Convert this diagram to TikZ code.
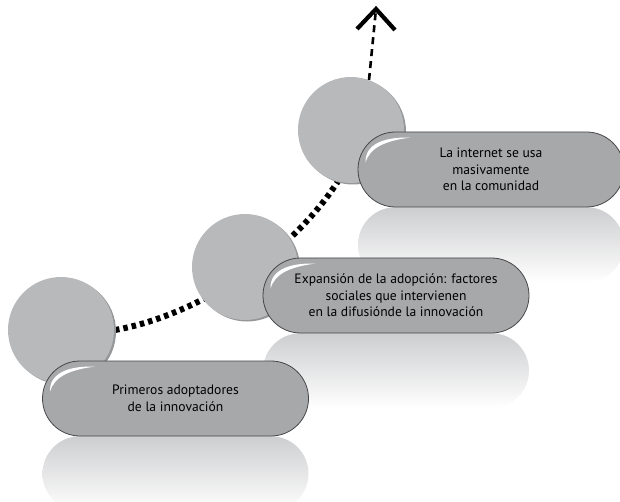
\documentclass[tikz,border=0pt]{standalone}
\usepackage{fontspec}
\setmainfont{PT Sans}
\usetikzlibrary{shapes.misc,calc}
\definecolor{circfill}{RGB}{184,185,187}
\definecolor{circshadow}{RGB}{150,151,153}
\definecolor{boxfill}{RGB}{167,168,170}
\definecolor{boxline}{RGB}{70,70,72}
\definecolor{reflgray}{RGB}{205,206,208}
\tikzset{
  bubble/.style={circle, fill=circfill, minimum size=106pt, inner sep=0pt},
  bubbleshadow/.style={circle, fill=circshadow, minimum size=106pt, inner sep=0pt},
  pill/.style={rounded rectangle, draw=boxline, line width=0.8pt, fill=boxfill,
    minimum width=266pt, minimum height=75pt, inner sep=0pt, align=center,
    font=\fontsize{13.6}{16.5}\selectfont},
  reflection/.style={rounded rectangle, minimum width=266pt, minimum height=75pt,
    inner sep=0pt, top color=reflgray, bottom color=white},
  thickdots/.style={line width=6pt, dash pattern=on 4.5pt off 4pt},
  thindots/.style={line width=2.6pt, dash pattern=on 7pt off 5pt},
  chevron/.style={line width=4.2pt, miter limit=10}
}
\begin{document}
\begin{tikzpicture}[x=1pt,y=-1pt]
\useasboundingbox (0,0) rectangle (620,502);
% circles positions (named coordinates)
\coordinate (p1) at (61,330);
\coordinate (p2) at (245,267);
\coordinate (p3) at (351,130);
% dotted growth path (behind the circles)
\draw[thickdots] (115,330) .. controls (200,315) and (300,250) .. (346,168);
\coordinate (tip) at (376,9);
\draw[thindots] (369,80) -- (tip);
\draw[chevron] (357,29) -- (tip) -- (395,30);
% reflections
\node[reflection, anchor=north] (r3) at (491,207) {};
\node[reflection, anchor=north] (r2) at (396,333) {};
\node[reflection, anchor=north] (r1) at (175.5,436) {};
% circles with a faint shadow
\node[bubbleshadow] at ($(p1)+(2,1.5)$) {};
\node[bubbleshadow] at ($(p2)+(2,1.5)$) {};
\node[bubbleshadow] at ($(p3)+(2,1.5)$) {};
\node[bubble] (c1) at (p1) {};
\node[bubble] (c2) at (p2) {};
\node[bubble] (c3) at (p3) {};
% pills
\node[pill] (b3) at (491,169.5) {La internet se usa\\masivamente\\en la comunidad};
\node[pill] (b2) at (396,295.5) {Expansión de la adopción: factores\\sociales que intervienen\\en la difusiónde la innovación};
\node[pill] (b1) at (175.5,398.5) {Primeros adoptadores\\de la innovación};
% highlights
\foreach \b in {b1,b2,b3}{
  \coordinate (k) at (\b.west |- \b.north);
  \fill[white] ($(k)+(8,31)$) .. controls ($(k)+(7,14)$) and ($(k)+(24,5)$) .. ($(k)+(53,6)$)
     .. controls ($(k)+(28,9)$) and ($(k)+(12,16)$) .. cycle;
}
\end{tikzpicture}
\end{document}
